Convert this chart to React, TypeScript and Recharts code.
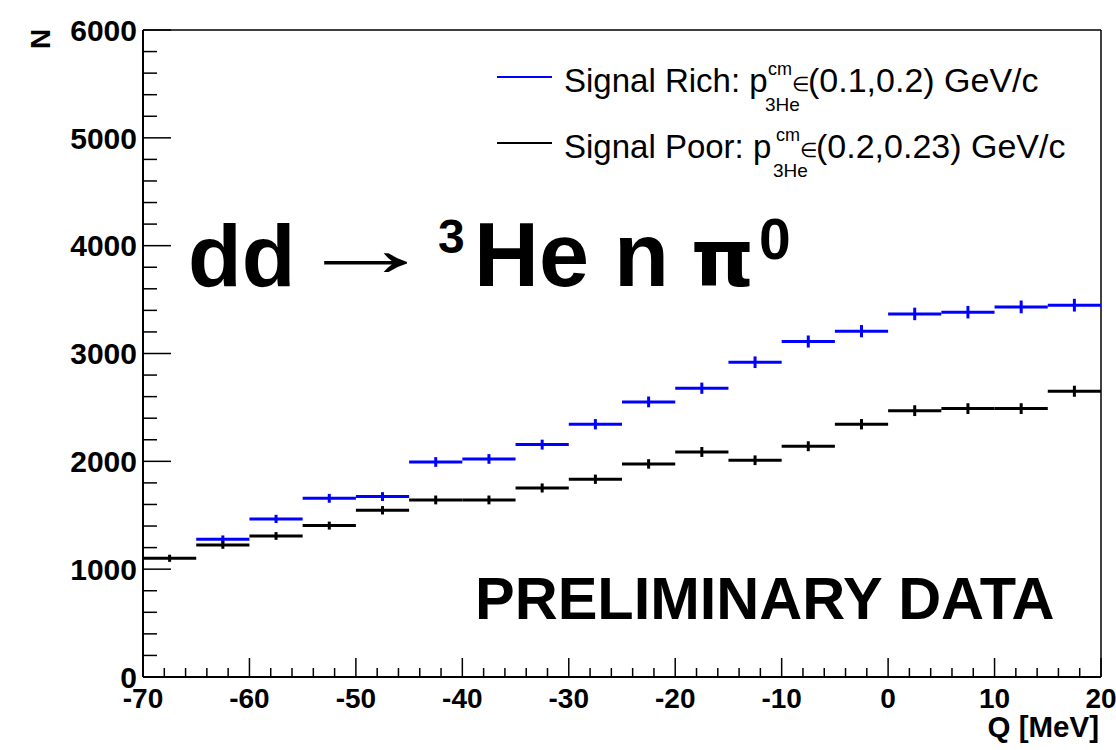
import React from 'react';
import { ComposedChart, Scatter, XAxis, YAxis, ErrorBar, ReferenceLine } from 'recharts';

// bin centres in Q [MeV], 5 MeV wide bins
const qBins = [-67.5, -62.5, -57.5, -52.5, -47.5, -42.5, -37.5, -32.5, -27.5, -22.5, -17.5, -12.5, -7.5, -2.5, 2.5, 7.5, 12.5, 17.5];
const binHalfWidth = [2.5, 2.5, 2.5, 2.5, 2.5, 2.5, 2.5, 2.5, 2.5, 2.5, 2.5, 2.5, 2.5, 2.5, 2.5, 2.5, 2.5, 2.5];

// signal rich has no entry in the first bin
const richCounts = [null, 1277, 1466, 1657, 1673, 1994, 2022, 2155, 2344, 2551, 2678, 2919, 3111, 3207, 3367, 3383, 3432, 3448];
const richErrors = [null, 36, 38, 41, 41, 45, 45, 46, 48, 50, 52, 54, 56, 57, 58, 58, 59, 59];

const poorCounts = [1101, 1224, 1308, 1404, 1546, 1642, 1642, 1753, 1834, 1976, 2087, 2010, 2140, 2344, 2470, 2489, 2489, 2650];
const poorErrors = [33, 35, 36, 37, 39, 41, 41, 42, 43, 44, 46, 45, 46, 48, 50, 50, 50, 51];

const xTicks = [-70, -68, -66, -64, -62, -60, -58, -56, -54, -52, -50, -48, -46, -44, -42, -40, -38, -36, -34, -32, -30, -28, -26, -24, -22, -20, -18, -16, -14, -12, -10, -8, -6, -4, -2, 0, 2, 4, 6, 8, 10, 12, 14, 16, 18, 20];
const yTicks = [0, 200, 400, 600, 800, 1000, 1200, 1400, 1600, 1800, 2000, 2200, 2400, 2600, 2800, 3000, 3200, 3400, 3600, 3800, 4000, 4200, 4400, 4600, 4800, 5000, 5200, 5400, 5600, 5800, 6000];

const FONT = '"Liberation Sans", Arial, Helvetica, sans-serif';

const richData = qBins
  .map((q, i) => ({ q, n: richCounts[i], ex: binHalfWidth[i], ey: richErrors[i] }))
  .filter((d) => d.n !== null);
const poorData = qBins.map((q, i) => ({ q, n: poorCounts[i], ex: binHalfWidth[i], ey: poorErrors[i] }));

const YTick = (props: any) => {
  const { x, y, payload } = props;
  const v = payload.value;
  const major = v % 1000 === 0;
  return (
    <g>
      <line x1={x} x2={x + (major ? 28 : 14)} y1={y} y2={y} stroke="#000" strokeWidth={1.5} />
      {major && (
        <text x={x - 6} y={y} dy="0.36em" textAnchor="end" fontFamily={FONT} fontWeight="bold" fontSize={30} fill="#000">
          {v}
        </text>
      )}
    </g>
  );
};

const XTick = (props: any) => {
  const { x, y, payload } = props;
  const v = payload.value;
  const major = v % 10 === 0;
  return (
    <g>
      <line x1={x} x2={x} y1={y} y2={y - (major ? 19 : 9)} stroke="#000" strokeWidth={1.5} />
      {major && (
        <text x={x} y={y + 31} textAnchor="middle" fontFamily={FONT} fontWeight="bold" fontSize={28} fill="#000">
          {v}
        </text>
      )}
    </g>
  );
};

const noDot = () => <g />;

export default function App() {
  return (
    <div style={{ position: 'absolute', left: 0, top: 0, width: 1116, height: 750, background: '#fff' }}>
      <ComposedChart width={1116} height={750} margin={{ top: 30, right: 15, left: 83, bottom: 43 }}>
        <XAxis
          dataKey="q"
          type="number"
          domain={[-70, 20]}
          allowDataOverflow
          ticks={xTicks}
          interval={0}
          tick={<XTick />}
          tickLine={false}
          tickSize={0}
          tickMargin={0}
          height={30}
          axisLine={{ stroke: '#000', strokeWidth: 2 }}
        />
        <YAxis
          dataKey="n"
          type="number"
          domain={[0, 6000]}
          allowDataOverflow
          ticks={yTicks}
          interval={0}
          tick={<YTick />}
          tickLine={false}
          tickSize={0}
          tickMargin={0}
          width={60}
          axisLine={{ stroke: '#000', strokeWidth: 2 }}
        />
        <ReferenceLine y={6000} stroke="#000" strokeWidth={1.5} />
        <ReferenceLine x={20} stroke="#000" strokeWidth={1.5} />
        <Scatter data={richData} dataKey="n" shape={noDot} isAnimationActive={false}>
          <ErrorBar dataKey="ex" direction="x" width={0} stroke="#0000ff" strokeWidth={3} />
          <ErrorBar dataKey="ey" direction="y" width={0} stroke="#0000ff" strokeWidth={3} />
        </Scatter>
        <Scatter data={poorData} dataKey="n" shape={noDot} isAnimationActive={false}>
          <ErrorBar dataKey="ex" direction="x" width={0} stroke="#000" strokeWidth={3} />
          <ErrorBar dataKey="ey" direction="y" width={0} stroke="#000" strokeWidth={3} />
        </Scatter>
      </ComposedChart>

      <svg width={1116} height={750} style={{ position: 'absolute', left: 0, top: 0, pointerEvents: 'none' }}>
        {/* axis titles */}
        <text x={0} y={0} transform="translate(50,39) rotate(-90)" textAnchor="middle" fontFamily={FONT} fontWeight="bold" fontSize={28} fill="#000">
          N
        </text>
        <text x={1099} y={737} textAnchor="end" fontFamily={FONT} fontWeight="bold" fontSize={29.5} fill="#000">
          Q [MeV]
        </text>

        {/* legend */}
        <line x1={497} x2={552} y1={77} y2={77} stroke="#0000ff" strokeWidth={2} />
        <text x={564} y={92} fontFamily={FONT} fontSize={33} fill="#000">Signal Rich: p</text>
        <text x={768} y={75} fontFamily={FONT} fontSize={18} fill="#000">cm</text>
        <text x={765} y={111} fontFamily={FONT} fontSize={19} fill="#000">3He</text>
        <text x={792} y={91} fontFamily={FONT} fontSize={20} fill="#000">∈</text>
        <text x={808} y={92} fontFamily={FONT} fontSize={34} fill="#000">(0.1,0.2) GeV/c</text>

        <line x1={497} x2={552} y1={143} y2={143} stroke="#000" strokeWidth={2} />
        <text x={564} y={158} fontFamily={FONT} fontSize={33} fill="#000">Signal Poor: p</text>
        <text x={776} y={141} fontFamily={FONT} fontSize={18} fill="#000">cm</text>
        <text x={773} y={177} fontFamily={FONT} fontSize={19} fill="#000">3He</text>
        <text x={800} y={157} fontFamily={FONT} fontSize={20} fill="#000">∈</text>
        <text x={816} y={158} fontFamily={FONT} fontSize={34} fill="#000">(0.2,0.23) GeV/c</text>

        {/* reaction label */}
        <text x={188} y={286} fontFamily={FONT} fontWeight="bold" fontSize={88} fill="#000">dd</text>
        <text x={0} y={0} transform="translate(366,276) scale(1.75,1)" textAnchor="middle" fontFamily={FONT} fontSize={80} fill="#000">→</text>
        <text x={438} y={253} fontFamily={FONT} fontWeight="bold" fontSize={48} fill="#000">3</text>
        <text x={474} y={286} fontFamily={FONT} fontWeight="bold" fontSize={90} fill="#000">He n</text>
        <text x={691} y={286} fontFamily='"DejaVu Sans", sans-serif' fontWeight="bold" fontSize={80} fill="#000">π</text>
        <text x={759} y={259} fontFamily={FONT} fontWeight="bold" fontSize={57} fill="#000">0</text>

        <text x={475} y={619} fontFamily={FONT} fontWeight="bold" fontSize={59.5} fill="#000">PRELIMINARY DATA</text>
      </svg>
    </div>
  );
}
